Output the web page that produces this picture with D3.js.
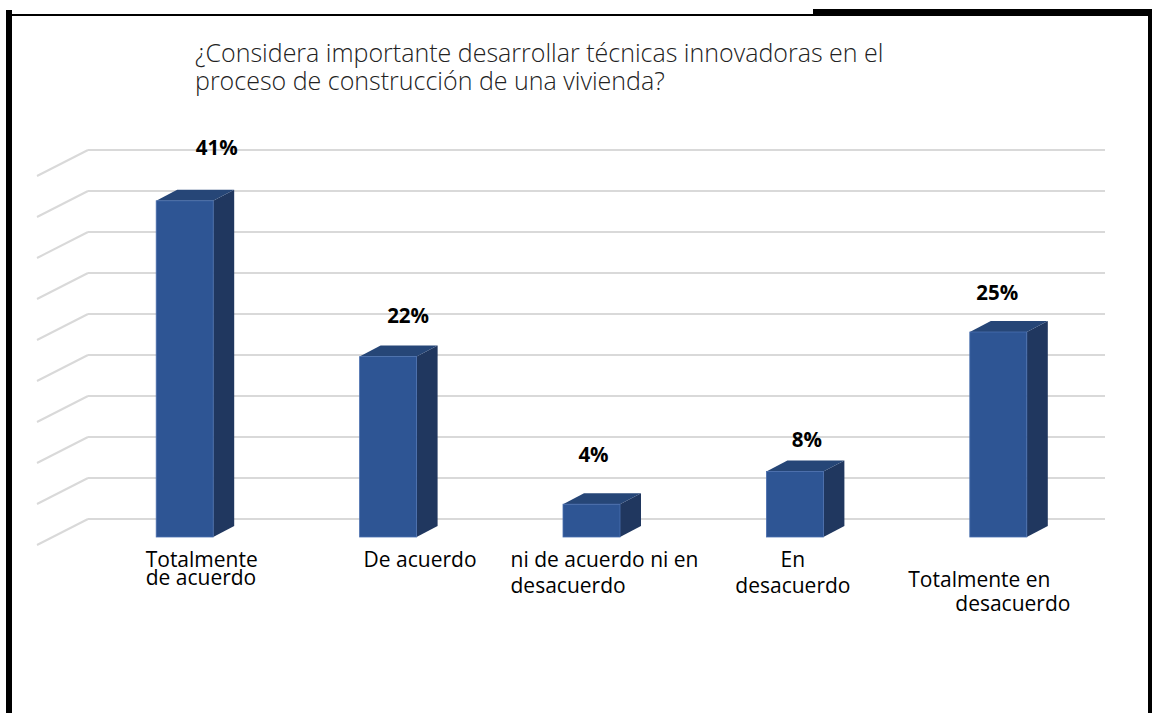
<!DOCTYPE html>
<html>
<head>
<meta charset="utf-8">
<script src="https://cdn.jsdelivr.net/npm/d3@7"></script>
<style>
  html, body { margin: 0; padding: 0; background: #fff; }
  svg { display: block; }
</style>
</head>
<body>
<svg id="chart" width="1154" height="713"></svg>
<script>
// Survey answers and their shares (%)
const categories = [
  "Totalmente de acuerdo",
  "De acuerdo",
  "ni de acuerdo ni en desacuerdo",
  "En desacuerdo",
  "Totalmente en desacuerdo"
];
const categoryLines = [
  ["Totalmente", "de acuerdo"],
  ["De acuerdo"],
  ["ni de acuerdo ni en", "desacuerdo"],
  ["En", "desacuerdo"],
  ["Totalmente en", "desacuerdo"]
];
const values = [41, 22, 4, 8, 25];
const gridTicks = [0, 5, 10, 15, 20, 25, 30, 35, 40, 45];
const titleLines = [
  "¿Considera importante desarrollar técnicas innovadoras en el",
  "proceso de construcción de una vivienda?"
];

// Hand-placed text boxes: offsets from each bar's front-face centre
const categoryLayout = [
  { anchor: "start",  dx: [-39, -39], top: 567, lead: 18 },
  { anchor: "middle", dx: [32],       top: 567, lead: 18 },
  { anchor: "start",  dx: [-81, -81], top: 567, lead: 26 },
  { anchor: "middle", dx: [-2, -2],   top: 567, lead: 26 },
  { anchor: "start",  dx: [-90, -43], top: 587, lead: 24 }
];
const valueLabelLayout = [
  { dx: 32, dy: -35 },
  { dx: 20, dy: -23 },
  { dx: 2,  dy: -31 },
  { dx: 12, dy: -13 },
  { dx: -1, dy: -21 }
];

const svg = d3.select("#chart");

// Frame around the figure
svg.append("rect").attr("x", 6).attr("y", 10).attr("width", 6).attr("height", 703).attr("fill", "#000");
svg.append("rect").attr("x", 6).attr("y", 14).attr("width", 808).attr("height", 2).attr("fill", "#000");
svg.append("rect").attr("x", 813).attr("y", 9).attr("width", 339).attr("height", 7).attr("fill", "#000");
svg.append("rect").attr("x", 1148).attr("y", 9).attr("width", 4).attr("height", 704).attr("fill", "#000");

// Title
svg.append("text")
  .attr("x", 195).attr("y", 62)
  .attr("font-family", "'Open Sans', sans-serif")
  .attr("font-weight", 300)
  .attr("font-size", 25)
  .attr("fill", "#222")
  .selectAll("tspan").data(titleLines).join("tspan")
  .attr("x", 195).attr("dy", (d, i) => i ? 28 : 0)
  .text(d => d);

// Back wall scale and 3D depth geometry
const wallLeft = 88, wallRight = 1105;
const y = d3.scaleLinear().domain([0, 45]).range([519, 150]);
const depth = { dx: -51, dy: 26 };      // wall to front edge of floor
const barFront = { dx: 0, dy: 18 };     // wall to bar front face
const barDepth = { dx: 21, dy: -11 };   // bar front face to bar back face

// Gridlines: back wall horizontals and side-wall diagonals
const grid = svg.append("g").attr("stroke", "#d9d9d9").attr("stroke-width", 2).attr("fill", "none");
grid.selectAll("line.h").data(gridTicks).join("line")
  .attr("class", "h")
  .attr("x1", wallLeft).attr("x2", wallRight)
  .attr("y1", d => y(d)).attr("y2", d => y(d));
grid.selectAll("line.d").data(gridTicks).join("line")
  .attr("class", "d")
  .attr("x1", wallLeft).attr("y1", d => y(d))
  .attr("x2", wallLeft + depth.dx).attr("y2", d => y(d) + depth.dy);

// Category scale on the bars' front plane
const x = d3.scaleBand().domain(categories).range([83, 1100]);
const barW = 57;
const frontLeft = c => x(c) + (x.bandwidth() - barW) / 2;
const frontCenter = c => frontLeft(c) + barW / 2;

const bars = svg.append("g").selectAll("g").data(categories).join("g");

bars.each(function (c, i) {
  const g = d3.select(this);
  const v = values[i];
  const x0 = frontLeft(c), x1 = x0 + barW;
  const yTop = y(v) + barFront.dy, yBot = y(0) + barFront.dy;
  const bx = barDepth.dx, by = barDepth.dy;
  // side face
  g.append("path")
    .attr("d", `M${x1},${yTop}L${x1 + bx},${yTop + by}L${x1 + bx},${yBot + by}L${x1},${yBot}Z`)
    .attr("fill", "#20375f");
  // top face
  g.append("path")
    .attr("d", `M${x0},${yTop}L${x0 + bx},${yTop + by}L${x1 + bx},${yTop + by}L${x1},${yTop}Z`)
    .attr("fill", "#264677");
  // front face
  g.append("rect")
    .attr("x", x0).attr("y", yTop)
    .attr("width", barW).attr("height", yBot - yTop)
    .attr("fill", "#2e5594")
    .attr("stroke", "#4a6fae").attr("stroke-width", 0.8);
});

// Value labels above the bars
svg.append("g").selectAll("text").data(categories).join("text")
  .attr("x", (c, i) => frontCenter(c) + valueLabelLayout[i].dx)
  .attr("y", (c, i) => y(values[i]) + barFront.dy + barDepth.dy + valueLabelLayout[i].dy)
  .attr("text-anchor", "middle")
  .attr("font-family", "'Open Sans', sans-serif")
  .attr("font-weight", 700)
  .attr("font-size", 20.5)
  .attr("fill", "#000")
  .text((c, i) => values[i] + "%");

// Category labels
svg.append("g").selectAll("text").data(categories).join("text")
  .attr("font-family", "'Open Sans', sans-serif")
  .attr("font-size", 21)
  .attr("fill", "#000")
  .attr("text-anchor", (c, i) => categoryLayout[i].anchor)
  .each(function (c, i) {
    const L = categoryLayout[i];
    d3.select(this).selectAll("tspan").data(categoryLines[i]).join("tspan")
      .attr("x", (d, k) => frontCenter(c) + L.dx[k])
      .attr("y", (d, k) => L.top + k * L.lead)
      .text(d => d);
  });
</script>
</body>
</html>
